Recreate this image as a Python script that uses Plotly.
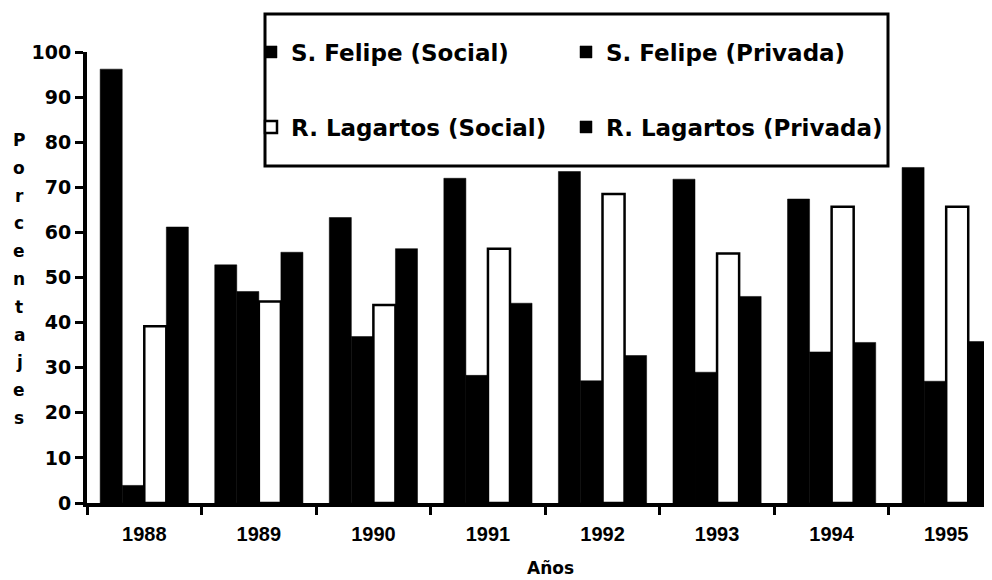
import plotly.graph_objects as go

# data
years = ['1988', '1989', '1990', '1991', '1992', '1993', '1994', '1995']
sf_social = [96.2, 52.8, 63.3, 72.0, 73.5, 71.8, 67.4, 74.4]
sf_privada = [3.9, 46.9, 36.9, 28.3, 27.1, 29.0, 33.5, 27.0]
rl_social = [39.2, 44.7, 43.9, 56.4, 68.5, 55.3, 65.7, 65.7]
rl_privada = [61.2, 55.6, 56.4, 44.3, 32.7, 45.8, 35.6, 35.8]
y_ticks = [0, 10, 20, 30, 40, 50, 60, 70, 80, 90, 100]

y_title = 'Porcentajes'
x_title = 'Años'

# the page body has an 8px margin, so the figure is made a bit smaller
OFF = 8
W, H = 992 - OFF, 580 - OFF
L, R, T, B = 79, 0, 44, 77
pw, ph = W - L - R, H - T - B


def px_x(p):
    # page pixel -> paper x
    return (p - OFF - L) / pw


def px_y(p):
    # page pixel -> paper y
    return (OFF + T + ph - p) / ph


bold = 'Liberation Sans, Arial, sans-serif'
heavy = 'DejaVu Sans, sans-serif'

series = [
    ('S. Felipe (Social)', sf_social, 'black', 'legend'),
    ('S. Felipe (Privada)', sf_privada, 'black', 'legend2'),
    ('R. Lagartos (Social)', rl_social, 'white', 'legend3'),
    ('R. Lagartos (Privada)', rl_privada, 'black', 'legend4'),
]

fig = go.Figure()
for name, vals, color, leg in series:
    fig.add_trace(go.Bar(
        x=years, y=vals, name=name, legend=leg,
        marker=dict(color=color, line=dict(color='black', width=2.5 if color == 'white' else 0.5)),
    ))

# one legend per entry so the 2x2 layout of the boxed legend is kept
leg_pos = {
    'legend': (251, 52),
    'legend2': (566, 52),
    'legend3': (251, 127),
    'legend4': (566, 127),
}
legends = {}
for key, (lx, ly) in leg_pos.items():
    legends[key] = dict(
        x=px_x(lx), y=px_y(ly), xanchor='left', yanchor='middle',
        bgcolor='rgba(0,0,0,0)', borderwidth=0,
        font=dict(family=heavy, size=23, color='black', weight='bold'),
    )

fig.update_layout(
    width=W, height=H,
    margin=dict(l=L, r=R, t=T, b=B, autoexpand=False),
    paper_bgcolor='white', plot_bgcolor='white',
    barmode='group', bargap=0.23, bargroupgap=0,
    showlegend=True,
    **legends,
)

fig.update_xaxes(
    type='category', range=[-0.5, 7.4], automargin=False,
    showline=True, linecolor='black', linewidth=4,
    ticks='outside', tickson='boundaries', ticklen=8, tickwidth=3, tickcolor='black',
    ticklabelstandoff=10,
    tickfont=dict(family=bold, size=20, color='black', weight='bold'),
    showgrid=False, zeroline=False,
)
fig.update_yaxes(
    range=[0, 100], tickvals=y_ticks, automargin=False,
    showline=True, linecolor='black', linewidth=4,
    ticks='outside', ticklen=8, tickwidth=3, tickcolor='black',
    tickfont=dict(family=heavy, size=19, color='black', weight='bold'),
    showgrid=False, zeroline=False,
)

# legend frame
fig.add_shape(type='rect', xref='paper', yref='paper',
              x0=px_x(265), x1=px_x(888), y0=px_y(166), y1=px_y(14),
              line=dict(color='black', width=3), fillcolor='rgba(0,0,0,0)')

# vertical stacked y title
for i, ch in enumerate(y_title):
    fig.add_annotation(text=ch, xref='paper', yref='paper',
                       x=px_x(19), y=px_y(140 + i * 27.8),
                       showarrow=False, xanchor='center', yanchor='middle',
                       font=dict(family=heavy, size=17, color='black', weight='bold'))

fig.add_annotation(text=x_title, xref='paper', yref='paper',
                   x=px_x(550), y=px_y(568), showarrow=False,
                   xanchor='center', yanchor='middle',
                   font=dict(family=heavy, size=17, color='black', weight='bold'))

fig.write_html("out.html")
